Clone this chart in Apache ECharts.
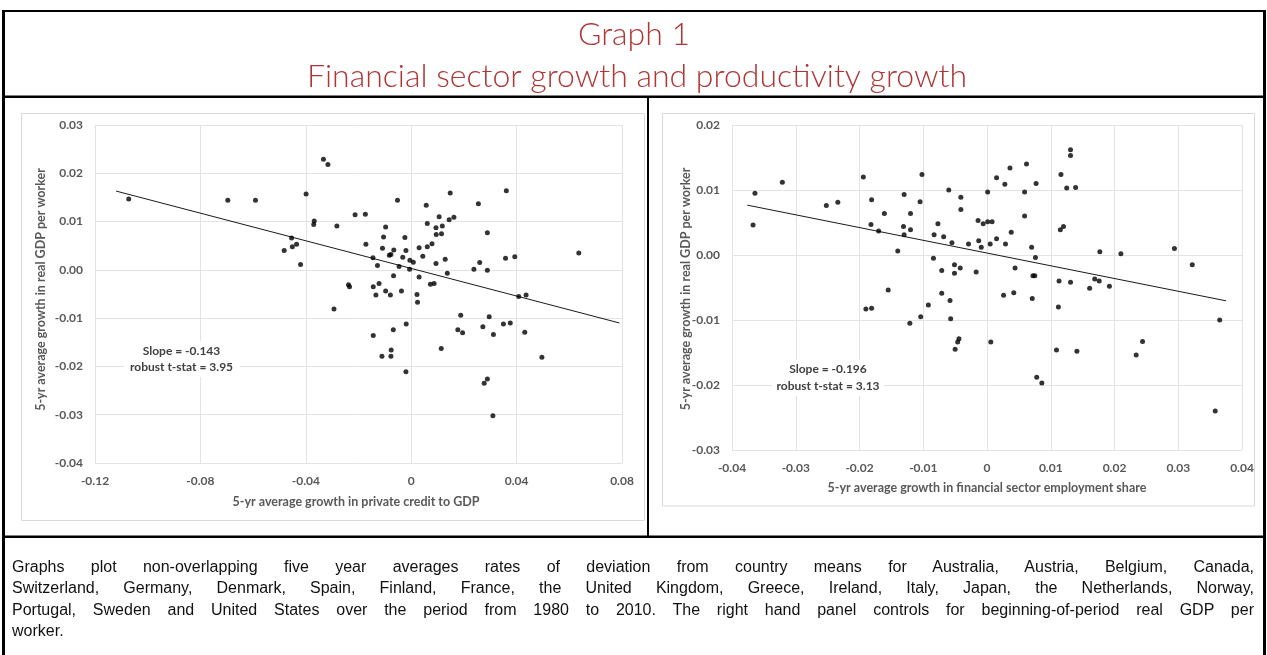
<!DOCTYPE html>
<html>
<head>
<meta charset="utf-8">
<title>Financial sector growth and productivity growth</title>
<script src="https://cdn.jsdelivr.net/npm/echarts@6.0.0/dist/echarts.min.js"></script>
<style>
  html, body { margin: 0; padding: 0; background: #fff; }
  #page { position: relative; width: 1267px; height: 655px; overflow: hidden; }
  #chart { position: absolute; left: 0; top: 0; width: 1267px; height: 655px; }
  #note {
    position: absolute; left: 12px; top: 556px; width: 1242px;
    font-family: "Liberation Sans", Arial, sans-serif; font-size: 16px;
    line-height: 21.3px; color: #111;
  }
  #note .j { text-align: justify; text-align-last: justify; }
</style>
</head>
<body>
<div id="page">
  <div id="chart"></div>
  <div id="note"></div>
</div>
<script>
// Five-year averages, deviations from country means: [x, y]
// Left panel: growth in private credit to GDP vs growth in real GDP per worker
const creditPoints = [
  [-0.0333,0.0229],[-0.0316,0.0218],[-0.0399,0.0157],[0.0361,0.0164],[0.0148,0.0159],[0.0255,0.0137],[-0.0052,0.0144],[0.0057,0.0134],[-0.0213,0.0114],[-0.0174,0.0115],
  [0.0106,0.0110],[0.0144,0.0104],[0.0162,0.0109],[-0.0368,0.0101],[-0.0370,0.0094],[-0.0282,0.0091],[-0.0097,0.0089],[0.0061,0.0096],[0.0094,0.0087],[0.0118,0.0091],
  [0.0095,0.0073],[0.0115,0.0075],[0.0289,0.0077],[-0.0454,0.0066],[-0.0105,0.0068],[-0.0024,0.0067],[-0.0435,0.0053],[-0.0451,0.0048],[-0.0482,0.0040],[-0.0172,0.0053],
  [-0.0109,0.0045],[-0.0066,0.0041],[-0.0077,0.0032],[-0.0083,0.0030],[-0.0020,0.0040],[0.0030,0.0046],[0.0061,0.0048],[0.0079,0.0054],[0.0044,0.0028],[-0.0032,0.0026],
  [-0.0005,0.0020],[0.0008,0.0016],[-0.0145,0.0025],[-0.0420,0.0011],[-0.0128,0.0009],[-0.0046,0.0007],[-0.0006,0.0001],[0.0129,0.0022],[0.0094,0.0013],[0.0137,-0.0007],
  [0.0260,0.0015],[0.0238,0.0001],[0.0289,-0.0001],[0.0358,0.0024],[0.0393,0.0027],[-0.0067,-0.0012],[0.0030,-0.0015],[-0.0238,-0.0031],[-0.0234,-0.0035],[-0.0144,-0.0035],
  [-0.0122,-0.0028],[0.0073,-0.0030],[0.0087,-0.0028],[-0.0134,-0.0052],[-0.0097,-0.0044],[-0.0079,-0.0052],[-0.0037,-0.0044],[0.0022,-0.0051],[0.0024,-0.0067],[0.0408,-0.0055],
  [0.0436,-0.0052],[-0.0293,-0.0081],[0.0188,-0.0094],[0.0296,-0.0097],[0.0177,-0.0124],[0.0195,-0.0130],[0.0272,-0.0118],[0.0350,-0.0112],[0.0376,-0.0110],[0.0312,-0.0134],
  [0.0431,-0.0129],[-0.0144,-0.0136],[-0.0068,-0.0124],[-0.0019,-0.0112],[0.0114,-0.0163],[-0.0076,-0.0166],[-0.0111,-0.0179],[-0.0077,-0.0179],[0.0496,-0.0181],[-0.0020,-0.0211],
  [0.0289,-0.0226],[0.0277,-0.0235],[0.0310,-0.0302],[-0.1072,0.0147],[-0.0696,0.0144],[-0.0591,0.0144],[0.0636,0.0035]
];

// Right panel: growth in financial sector employment share vs growth in real GDP per worker
const employmentPoints = [
  [0.0131,0.0162],[0.0131,0.0153],[0.0062,0.0140],[0.0036,0.0134],[0.0116,0.0124],[0.0015,0.0119],[-0.0194,0.0120],[-0.0102,0.0124],[0.0028,0.0109],[0.0077,0.0110],
  [0.0125,0.0103],[0.0139,0.0104],[-0.0060,0.0100],[0.0001,0.0097],[0.0059,0.0097],[-0.0130,0.0093],[-0.0041,0.0089],[-0.0234,0.0081],[-0.0181,0.0085],[-0.0105,0.0082],
  [-0.0041,0.0070],[-0.0161,0.0064],[-0.0120,0.0064],[0.0059,0.0060],[-0.0014,0.0053],[-0.0006,0.0048],[0.0001,0.0051],[0.0008,0.0051],[-0.0077,0.0048],[-0.0182,0.0047],
  [-0.0131,0.0044],[-0.0120,0.0039],[-0.0170,0.0037],[0.0120,0.0044],[0.0115,0.0039],[0.0038,0.0035],[-0.0130,0.0031],[-0.0083,0.0031],[-0.0068,0.0028],[0.0015,0.0025],
  [-0.0055,0.0019],[-0.0029,0.0017],[-0.0013,0.0022],[-0.0009,0.0012],[0.0005,0.0017],[0.0029,0.0017],[0.0070,0.0012],[-0.0140,0.0006],[0.0177,0.0005],[0.0210,0.0002],
  [0.0076,-0.0004],[-0.0084,-0.0005],[-0.0051,-0.0015],[-0.0042,-0.0020],[-0.0071,-0.0024],[-0.0051,-0.0028],[-0.0017,-0.0026],[0.0044,-0.0020],[0.0072,-0.0032],[0.0075,-0.0032],
  [0.0113,-0.0040],[0.0131,-0.0042],[0.0161,-0.0051],[0.0169,-0.0037],[0.0176,-0.0040],[0.0192,-0.0048],[-0.0155,-0.0054],[-0.0071,-0.0059],[-0.0058,-0.0070],[0.0026,-0.0062],
  [0.0042,-0.0058],[0.0071,-0.0067],[-0.0190,-0.0083],[-0.0181,-0.0082],[-0.0092,-0.0077],[0.0112,-0.0080],[-0.0104,-0.0095],[-0.0121,-0.0105],[-0.0057,-0.0098],[-0.0044,-0.0129],
  [-0.0046,-0.0134],[-0.0050,-0.0145],[0.0006,-0.0134],[0.0109,-0.0146],[0.0141,-0.0148],[0.0078,-0.0188],[0.0086,-0.0197],[0.0294,0.0010],[0.0322,-0.0015],[0.0365,-0.0100],
  [0.0234,-0.0154],[0.0244,-0.0133],[0.0358,-0.0240],[-0.0367,0.0046],[-0.0364,0.0095],[-0.0321,0.0112],[-0.0252,0.0076]
];

// Fitted lines: slope as reported, span of the trend line on the x axis
const creditSlope = -0.143;
const creditIntercept = 0.0003;
const creditFitSpan = [-0.112, 0.079];
const employmentSlope = -0.196;
const employmentIntercept = 0.0003;
const employmentFitSpan = [-0.0376, 0.0375];

// Tick labels
const creditXTicks = ['-0.12', '-0.08', '-0.04', '0', '0.04', '0.08'];
const creditYTicks = ['-0.04', '-0.03', '-0.02', '-0.01', '0.00', '0.01', '0.02', '0.03'];
const employmentXTicks = ['-0.04', '-0.03', '-0.02', '-0.01', '0', '0.01', '0.02', '0.03', '0.04'];
const employmentYTicks = ['-0.03', '-0.02', '-0.01', '0.00', '0.01', '0.02'];

// Texts
const titleLines = ['Graph 1', 'Financial sector growth and productivity growth'];
const yAxisTitle = '5-yr average growth in real GDP per worker';
const creditXTitle = '5-yr average growth in private credit to GDP';
const employmentXTitle = '5-yr average growth in financial sector employment share';
const creditStats = ['Slope = -0.143', 'robust t-stat = 3.95'];
const employmentStats = ['Slope = -0.196', 'robust t-stat = 3.13'];
const noteLines = [
  'Graphs plot non-overlapping five year averages rates of deviation from country means for Australia, Austria, Belgium, Canada,',
  'Switzerland, Germany, Denmark, Spain, Finland, France, the United Kingdom, Greece, Ireland, Italy, Japan, the Netherlands, Norway,',
  'Portugal, Sweden and United States over the period from 1980 to 2010. The right hand panel controls for beginning-of-period real GDP per',
  'worker.'
];

// Footnote paragraph, justified line by line
const note = document.getElementById('note');
noteLines.forEach(function (line, i) {
  const d = document.createElement('div');
  if (i < noteLines.length - 1) d.className = 'j';
  d.textContent = line;
  note.appendChild(d);
});

function fitLine(span, slope, intercept) {
  return span.map(function (x) { return [x, intercept + slope * x]; });
}

const LABEL_FONT = 'Lato, "Open Sans", sans-serif';
const labelGrey = '#595959';

function valueAxis(gridIndex, min, max, interval, ticks) {
  return {
    type: 'value', gridIndex: gridIndex, min: min, max: max, interval: interval,
    axisLine: { show: false }, axisTick: { show: false },
    splitLine: { show: true, lineStyle: { color: '#e3e3e3', width: 1 } },
    axisLabel: {
      margin: 12, color: labelGrey, fontFamily: LABEL_FONT, fontWeight: 'bold', fontSize: 12,
      formatter: function (v) { return ticks[Math.round((v - min) / interval)]; }
    }
  };
}

function text(x, y, str, font, fill, extra) {
  const el = {
    type: 'text', x: x, y: y, silent: true, z: 20,
    style: { text: str, font: font, fill: fill, align: 'center', verticalAlign: 'middle' }
  };
  return Object.assign(el, extra || {});
}

function bar(x, y, w, h) {
  return { type: 'rect', silent: true, z: 20, shape: { x: x, y: y, width: w, height: h }, style: { fill: '#000' } };
}

function blank(x, y, w, h) {
  return { type: 'rect', silent: true, z: 15, shape: { x: x, y: y, width: w, height: h }, style: { fill: '#fff' } };
}

const boldFont = 'bold 12.5px ' + LABEL_FONT;
const statFont = 'bold 12px ' + LABEL_FONT;

const chart = echarts.init(document.getElementById('chart'), null, { renderer: 'canvas' });
chart.setOption({
  animation: false,
  backgroundColor: '#fff',
  grid: [
    { left: 95, top: 125, width: 527, height: 338, containLabel: false, outerBoundsMode: 'none' },
    { left: 732, top: 125, width: 510, height: 325, containLabel: false, outerBoundsMode: 'none' }
  ],
  xAxis: [
    valueAxis(0, -0.12, 0.08, 0.04, creditXTicks),
    valueAxis(1, -0.04, 0.04, 0.01, employmentXTicks)
  ],
  yAxis: [
    valueAxis(0, -0.04, 0.03, 0.01, creditYTicks),
    valueAxis(1, -0.03, 0.02, 0.01, employmentYTicks)
  ],
  series: [
    { type: 'line', xAxisIndex: 0, yAxisIndex: 0, data: fitLine(creditFitSpan, creditSlope, creditIntercept),
      symbol: 'none', lineStyle: { color: '#1a1a1a', width: 1 }, z: 2 },
    { type: 'scatter', xAxisIndex: 0, yAxisIndex: 0, data: creditPoints,
      symbol: 'circle', symbolSize: 5, itemStyle: { color: '#000' }, z: 3 },
    { type: 'line', xAxisIndex: 1, yAxisIndex: 1, data: fitLine(employmentFitSpan, employmentSlope, employmentIntercept),
      symbol: 'none', lineStyle: { color: '#1a1a1a', width: 1 }, z: 2 },
    { type: 'scatter', xAxisIndex: 1, yAxisIndex: 1, data: employmentPoints,
      symbol: 'circle', symbolSize: 5, itemStyle: { color: '#000' }, z: 3 }
  ],
  graphic: [
    // chart-area frames
    { type: 'rect', silent: true, shape: { x: 21.5, y: 113.5, width: 623, height: 407 },
      style: { fill: 'none', stroke: '#dadada', lineWidth: 1 } },
    { type: 'rect', silent: true, shape: { x: 662.5, y: 113.5, width: 592, height: 392.5 },
      style: { fill: 'none', stroke: '#dadada', lineWidth: 1 } },
    // page rules
    bar(2, 10, 1264, 2),
    bar(2, 10, 3, 645),
    bar(1263, 10, 3, 645),
    bar(2, 95.5, 1264, 2.5),
    bar(2, 535.5, 1264, 2.5),
    bar(647, 96, 2, 441),
    // heading
    text(634, 35, titleLines[0], '300 32px Lato, "Open Sans", sans-serif', '#B03535'),
    text(637, 77, titleLines[1], '300 32px Lato, "Open Sans", sans-serif', '#B03535'),
    // axis titles
    text(40.5, 289.5, yAxisTitle, boldFont, labelGrey, { rotation: Math.PI / 2 }),
    text(686, 289, yAxisTitle, boldFont, labelGrey, { rotation: Math.PI / 2 }),
    text(356, 502, creditXTitle, boldFont, labelGrey),
    text(987, 488, employmentXTitle, boldFont, labelGrey),
    // regression statistics on a white label box
    blank(124, 341, 116, 36),
    blank(772, 360, 112, 36),
    text(181.5, 351, creditStats[0], statFont, '#404040'),
    text(181.5, 367.5, creditStats[1], statFont, '#404040'),
    text(828, 369.5, employmentStats[0], statFont, '#404040'),
    text(828, 386, employmentStats[1], statFont, '#404040')
  ]
});
</script>
</body>
</html>
